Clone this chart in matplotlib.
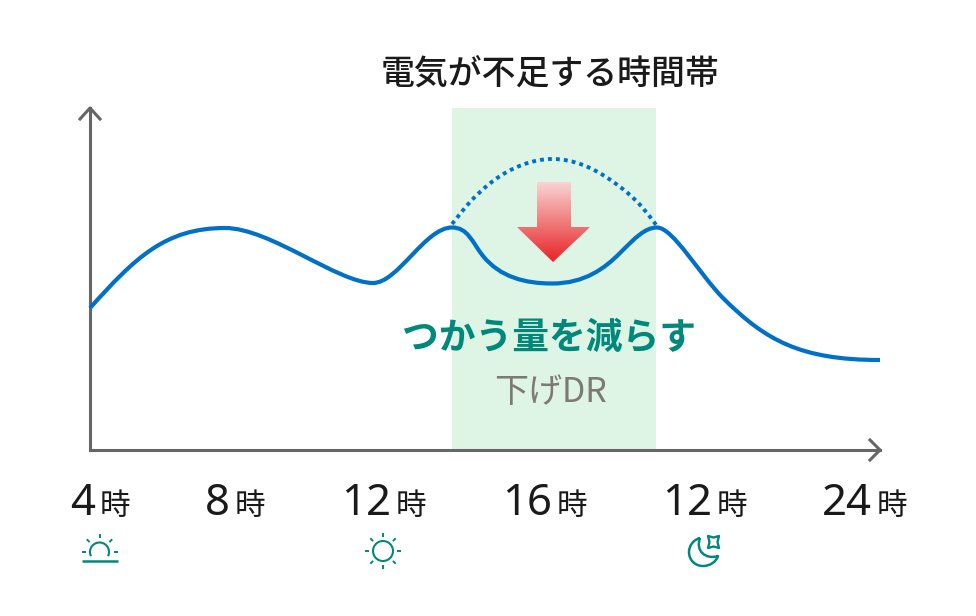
import numpy as np
import matplotlib
matplotlib.use('Agg')
import matplotlib.pyplot as plt
from matplotlib.path import Path
from matplotlib.patches import PathPatch, Circle, Rectangle

plt.rcParams['font.family'] = ['Noto Sans CJK JP', 'DejaVu Sans']

# curve: knots at the peaks and dips, with bezier handles
demand_x = [90, 225, 373, 452, 483, 552, 620, 657, 723, 880]
demand_y = [308, 228, 283, 227.5, 256, 283.5, 253, 227.5, 298, 360]
handle_out = [(135, 258), (270, 228), (398, 283), (468, 227.5), (500, 277), (585, 283.5), (635, 238), (673, 227.5), (765, 340)]
handle_in = [(165, 228), (338, 283), (425, 227.5), (472, 242), (525, 283.5), (605, 268), (645, 227.5), (700, 275), (800, 360)]

before_x = [452, 470, 493, 522, 553, 583, 612, 642, 657]
before_y = [224, 202, 181, 165, 159, 165, 181, 207, 226]

tick_hours = ['4', '8', '12', '16', '12', '24']
tick_unit = '時'
tick_x = [101, 236, 397, 558, 718, 878]

title = '電気が不足する時間帯'
label_main = 'つかう量を減らす'
label_sub = '下げDR'

GREY = '#666666'
BLUE = '#0070c8'
TEAL = '#00897b'


def smooth_path(xs, ys):
    # hermite through the read points, slopes from neighbours
    x = np.array(xs, dtype=float)
    y = np.array(ys, dtype=float)
    m = np.gradient(y, x)
    verts = [(x[0], y[0])]
    codes = [Path.MOVETO]
    for i in range(len(x) - 1):
        dx = (x[i + 1] - x[i]) / 3
        verts += [(x[i] + dx, y[i] + m[i] * dx), (x[i + 1] - dx, y[i + 1] - m[i + 1] * dx), (x[i + 1], y[i + 1])]
        codes += [Path.CURVE4] * 3
    return Path(verts, codes)


def bezier_path(xs, ys, h_out, h_in):
    verts = [(xs[0], ys[0])]
    codes = [Path.MOVETO]
    for i in range(len(xs) - 1):
        verts += [h_out[i], h_in[i], (xs[i + 1], ys[i + 1])]
        codes += [Path.CURVE4] * 3
    return Path(verts, codes)


def rays(ax, cx, cy, angles, r0=14, r1=18):
    for a in angles:
        c, s = np.cos(np.radians(a)), np.sin(np.radians(a))
        ax.plot([cx + r0 * c, cx + r1 * c], [cy - r0 * s, cy - r1 * s], color=TEAL, lw=1.4, solid_capstyle='butt')


fig = plt.figure(figsize=(9.76, 6.16), dpi=100)
ax = fig.add_axes([0, 0, 1, 1])
ax.set_xlim(0, 976)
ax.set_ylim(616, 0)
ax.axis('off')

# shaded band
ax.add_patch(Rectangle((452, 108), 204, 342, fc='#def4e5', ec='none', zorder=1))

# axes arrows
ax.plot([90, 90, 880], [108, 450, 450], color=GREY, lw=2.2, zorder=2, solid_joinstyle='miter')
ax.plot([80, 90, 100], [119, 108, 119], color=GREY, lw=2.2, zorder=2)
ax.plot([870, 880, 870], [440, 450, 460], color=GREY, lw=2.2, zorder=2)

# curves
ax.add_patch(PathPatch(smooth_path(before_x, before_y), fc='none', ec=BLUE, lw=2.8, ls=(0, (1, 1.05)), zorder=3))
ax.add_patch(PathPatch(bezier_path(demand_x, demand_y, handle_out, handle_in), fc='none', ec=BLUE, lw=3.0, zorder=4))

# gradient arrow
arrow = Path([(537, 182), (571, 182), (571, 227), (590, 227), (553, 262), (517, 227), (537, 227), (537, 182)],
             [Path.MOVETO] + [Path.LINETO] * 6 + [Path.CLOSEPOLY])
grad = np.linspace(0, 1, 100).reshape(-1, 1, 1)
rgb = (1 - grad) * np.array([0.975, 0.83, 0.83]) + grad * np.array([0.91, 0.14, 0.15])
im = ax.imshow(rgb, extent=(517, 590, 262, 182), aspect='auto', zorder=5)
im.set_clip_path(PathPatch(arrow, transform=ax.transData))
ax.set_xlim(0, 976)
ax.set_ylim(616, 0)

# text
ax.text(550, 84, title, fontsize=24.4, fontweight='medium', color='#1a1a1a', ha='center', va='baseline')
ax.text(549, 349, label_main, fontsize=26.5, fontweight='bold', color=TEAL, ha='center', va='baseline')
ax.text(551, 402, label_sub, fontsize=24.5, color='#7d7a74', ha='center', va='baseline')

for h, x in zip(tick_hours, tick_x):
    ax.text(x - 6, 515, h, fontsize=31.5, color='#1a1a1a', ha='right', va='baseline', family=['Noto Sans', 'DejaVu Sans'])
    ax.text(x - 1, 515, tick_unit, fontsize=22, color='#1a1a1a', ha='left', va='baseline')

# sunrise icon
t = np.radians(np.linspace(-20, 200, 40))
ax.plot(99.5 + 9.5 * np.cos(t), 552 - 9.5 * np.sin(t), color=TEAL, lw=1.5)
rays(ax, 99.5, 552, [0, 45, 90, 135, 180])
ax.plot([82, 118], [561, 561], color=TEAL, lw=1.8, solid_capstyle='butt')

# sun icon
ax.add_patch(Circle((383, 551), 10, fc='none', ec=TEAL, lw=1.5))
rays(ax, 383, 551, np.arange(0, 360, 45))

# moon icon
moon = Path([(700, 538), (693, 540), (689, 546), (689, 552),
             (689, 560), (695, 566), (703, 566),
             (710, 566), (716, 562), (718, 556),
             (706, 560), (695, 551), (700, 538)],
            [Path.MOVETO] + [Path.CURVE4] * 12)
ax.add_patch(PathPatch(moon, fc='none', ec=TEAL, lw=1.8, joinstyle='round'))
star = Path([(708, 536), (713.5, 537.5), (719, 536), (717.5, 542), (719, 548), (713.5, 546.5), (708, 548), (709.5, 542), (708, 536)],
            [Path.MOVETO] + [Path.LINETO] * 7 + [Path.CLOSEPOLY])
ax.add_patch(PathPatch(star, fc='none', ec=TEAL, lw=1.7, joinstyle='round'))

fig.savefig('out.png', dpi=100)
